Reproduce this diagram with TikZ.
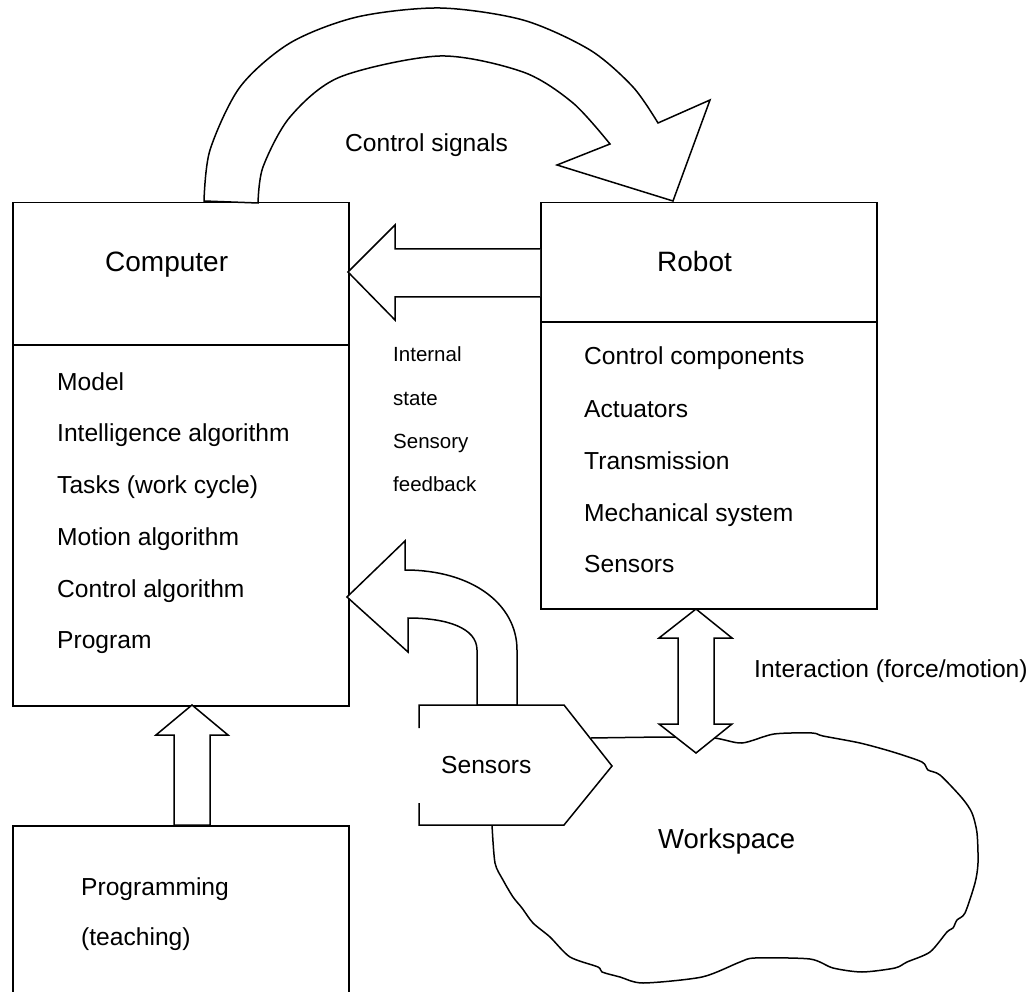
\documentclass[tikz,border=0pt]{standalone}
\usepackage{fontspec}
\setmainfont{Liberation Sans}
\begin{document}
\begin{tikzpicture}[x=1pt,y=-1pt,
  box/.style={draw,line width=1.5pt,minimum width=#1,anchor=north west,inner sep=0pt},
  blk/.style={draw,fill=white,line width=1.5pt,line join=miter},
  ln/.style={line width=1.5pt},
  txt/.style={anchor=base west,inner sep=0pt,font=\fontsize{24.6}{28}\selectfont},
  ttl/.style={anchor=base west,inner sep=0pt,font=\fontsize{28}{32}\selectfont},
  sml/.style={anchor=base west,inner sep=0pt,font=\fontsize{20.5}{24}\selectfont}]
\useasboundingbox (0,0) rectangle (1031,992);

% workspace cloud
\draw[ln,line join=round] plot[smooth,tension=0.45] coordinates {(591,738) (670,737) (714,738) (742,743) (774,734) (812,733) (823,736) (860,743) (893,752) (922,762) (928,770) (940,775) (962,798) (972,813) (977,833) (978,863) (975,883) (965,913) (957,920) (953,928) (947,932) (930,952) (907,962) (895,968) (862,972) (833,968) (810,959) (755,958) (740,962) (702,977) (643,983) (620,977) (602,972) (598,967) (570,957) (550,937) (533,923) (522,908) (513,897) (503,880) (495,863) (492,825)};
\node[ttl,font=\fontsize{27.5}{32}\selectfont] (work) at (658,848) {Workspace};

% boxes
\node[box=336pt,minimum height=503pt] (comp) at (12,202) {};
\node[box=336pt,minimum height=406pt] (robot) at (540,202) {};
\node[box=336pt,minimum height=200pt] (prog) at (12,825) {};
\draw[ln] (12,345) -- (348,345);
\draw[ln] (540,322) -- (876,322);

% top curved arrow: control signals
\draw[blk] plot[smooth] coordinates {(204,201) (210,150) (240,87) (290,43) (357,17) (440,8) (523,20) (590,50) (633,87) (658,123)}
  -- (710,100) -- (673,201) -- (557,165) -- (610,144)
  -- plot[smooth] coordinates {(610,144) (573,103) (523,72) (440,56) (340,77) (290,117) (263,167) (258,203)} -- cycle;

% robot -> computer arrow
\draw[blk] (540,249) -- (395,249) -- (395,225) -- (348,272) -- (395,320) -- (395,297) -- (540,297);

% programming -> computer arrow
\draw[blk] (192,705) -- (228,735) -- (210,735) -- (210,825) -- (174,825) -- (174,735) -- (156,735) -- cycle;

% sensors -> computer curved arrow
\draw[blk] (347,597) -- (405,541) -- (405,570) .. controls (472,570) and (517,604) .. (517,650) -- (517,705)
  -- (477,705) -- (477,650) .. controls (477,628) and (447,618) .. (408,618) -- (408,652) -- cycle;

% sensors shape
\fill[white] (419,705) -- (564,705) -- (612,766) -- (564,825) -- (419,825) -- cycle;
\draw[ln,line join=miter] (419,728) -- (419,705) -- (564,705) -- (612,766) -- (564,825) -- (419,825) -- (419,803);
\node[txt] (sens) at (441,773) {Sensors};

% interaction double arrow
\draw[blk] (696,609) -- (732,638) -- (714,638) -- (714,724) -- (732,724) -- (696,753) -- (659,724) -- (678,724) -- (678,638) -- (659,638) -- cycle;

% texts
\node[ttl] (ctitle) at (105,272) {Computer};
\node[ttl] (rtitle) at (657,272) {Robot};
\node[txt] (c1) at (57,390) {Model};
\node[txt] (c2) at (57,441) {Intelligence algorithm};
\node[txt] (c3) at (57,493) {Tasks (work cycle)};
\node[txt] (c4) at (57,545) {Motion algorithm};
\node[txt] (c5) at (57,597) {Control algorithm};
\node[txt] (c6) at (57,648) {Program};
\node[txt] (r1) at (584,365) {Control components};
\node[txt] (r2) at (584,417) {Actuators};
\node[txt] (r3) at (584,469) {Transmission};
\node[txt] (r4) at (584,521) {Mechanical system};
\node[txt] (r5) at (584,572) {Sensors};
\node[sml] (i1) at (393,362) {Internal};
\node[sml] (i2) at (393,405) {state};
\node[sml] (i3) at (393,448) {Sensory};
\node[sml] (i4) at (393,491) {feedback};
\node[txt] (cs) at (345,152) {Control signals};
\node[txt] (ia) at (754,677) {Interaction (force/motion)};
\node[txt] (p1) at (81,895) {Programming};
\node[txt] (p2) at (81,945) {(teaching)};
\end{tikzpicture}
\end{document}
